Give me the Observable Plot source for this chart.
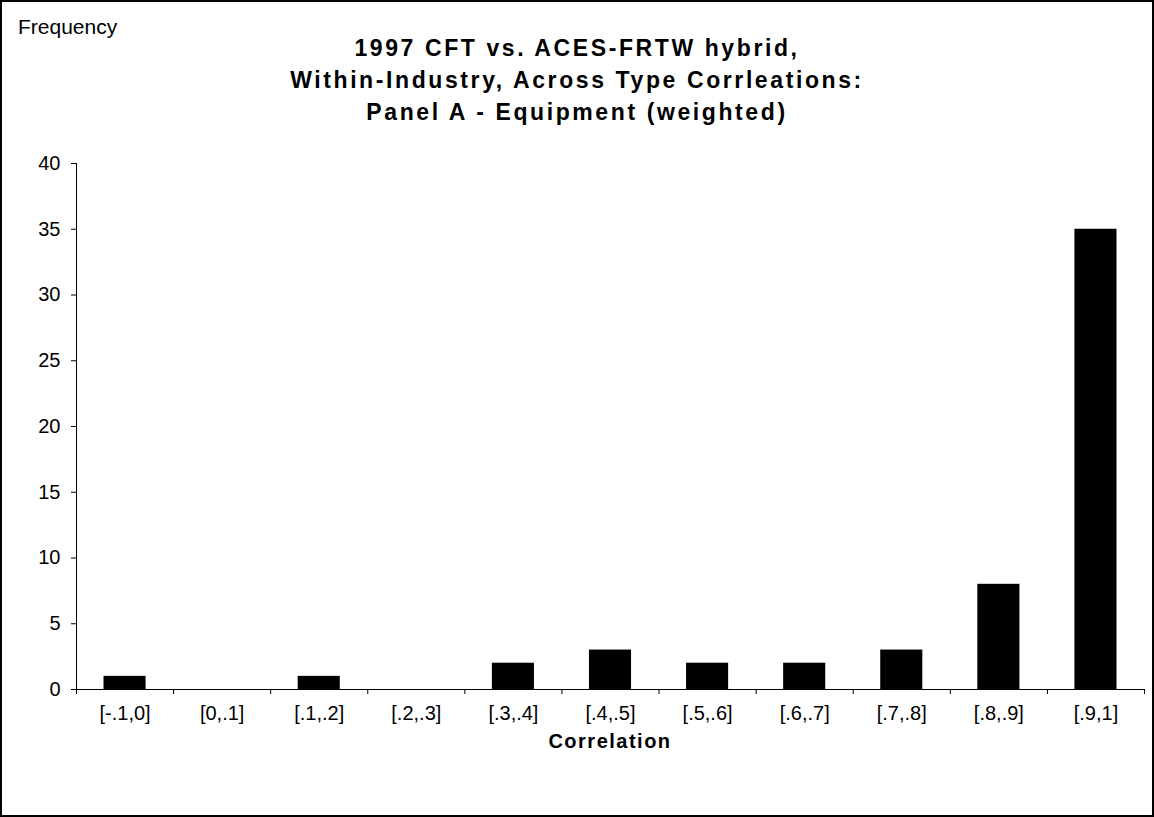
<!DOCTYPE html>
<html>
<head>
<meta charset="utf-8">
<script src="https://cdn.jsdelivr.net/npm/d3@7"></script>
<script src="https://cdn.jsdelivr.net/npm/@observablehq/plot@0.6"></script>
<style>
  html, body { margin: 0; padding: 0; background: #fff; }
  #page { position: relative; width: 1154px; height: 817px; overflow: hidden;
          font-family: "Liberation Sans", Arial, sans-serif; color: #000; }
  #page svg { position: absolute; left: 0; top: 0; }
  .frame { position: absolute; left: 0; top: 0; width: 1154px; height: 817px;
           box-sizing: border-box; border: 2px solid #000; pointer-events: none; }
  .ylab { position: absolute; left: 18px; top: 16px; font-size: 21px; line-height: 21px; white-space: nowrap; }
  .title { position: absolute; left: 0; width: 1154px; top: 32px; text-align: center;
           font-size: 23px; line-height: 32px; font-weight: bold; letter-spacing: 2.6px; white-space: nowrap; }
  .xlab { position: absolute; left: 76px; width: 1068px; top: 731px; text-align: center;
          font-size: 20px; line-height: 20px; font-weight: bold; letter-spacing: 1.5px; white-space: nowrap; }
</style>
</head>
<body>
<div id="page">
  <div class="ylab">Frequency</div>
  <div class="title">1997 CFT vs. ACES-FRTW hybrid,<br>Within-Industry, Across Type Corrleations:<br>Panel A - Equipment (weighted)</div>
  <div class="xlab">Correlation</div>
</div>
<script>
// Correlation bins and the number of industries falling in each
const bins = ["[-.1,0]", "[0,.1]", "[.1,.2]", "[.2,.3]", "[.3,.4]", "[.4,.5]",
              "[.5,.6]", "[.6,.7]", "[.7,.8]", "[.8,.9]", "[.9,1]"];
const counts = [1, 0, 1, 0, 2, 3, 2, 2, 3, 8, 35];
const yTicks = [0, 5, 10, 15, 20, 25, 30, 35, 40];

const rows = bins.map((bin, i) => ({bin, i, count: counts[i]}));
const edges = d3.range(bins.length + 1);
const centers = d3.range(bins.length).map(i => i + 0.5);

const chart = Plot.plot({
  width: 1154,
  height: 817,
  marginLeft: 76,
  marginRight: 10,
  marginTop: 163,
  marginBottom: 128,
  style: {fontFamily: '"Liberation Sans", Arial, sans-serif', fontSize: "20px", color: "#000", background: "transparent"},
  x: {type: "linear", domain: [0, bins.length]},
  y: {domain: [0, 40]},
  marks: [
    Plot.rectY(rows, {x1: "i", x2: d => d.i + 1, y: "count", fill: "#000", insetLeft: 27.5, insetRight: 27.5}),
    Plot.frame({anchor: "left", stroke: "#000"}),
    Plot.ruleY([0], {stroke: "#000"}),
    Plot.axisY({ticks: yTicks, tickSize: 5, tickPadding: 11, tickFormat: d => String(d), label: null, stroke: "#000"}),
    Plot.axisX({ticks: edges, tickSize: 5, tickFormat: () => "", label: null, stroke: "#000"}),
    Plot.axisX({ticks: centers, tickSize: 0, tickPadding: 16, tickFormat: v => bins[Math.floor(v)], label: null})
  ]
});
document.getElementById("page").prepend(chart);
const frame = document.createElement("div");
frame.className = "frame";
document.getElementById("page").appendChild(frame);
</script>
</body>
</html>
